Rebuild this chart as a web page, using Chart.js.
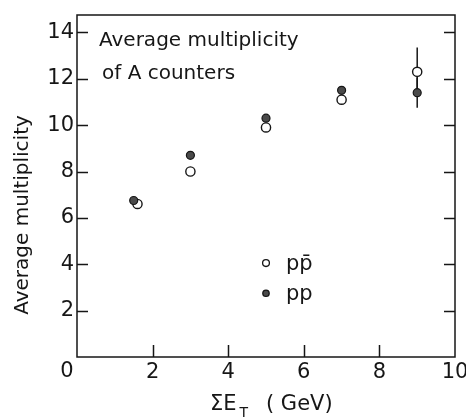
<!DOCTYPE html>
<html>
<head>
<meta charset="utf-8">
<script src="https://cdn.jsdelivr.net/npm/chart.js@4.4.0/dist/chart.umd.min.js"></script>
<style>
  html, body { margin: 0; padding: 0; background: #fff; }
  canvas { display: block; }
</style>
</head>
<body>
<canvas id="c" width="466" height="417"></canvas>
<script>
// Average multiplicity of A counters versus total transverse energy
const energiesPbar = [1.6, 3, 5, 7, 9];
const multPbar     = [6.6, 8.0, 9.9, 11.1, 12.3];
const errPbar      = [0, 0, 0, 0, 1.05];

const energiesPP   = [1.5, 3, 5, 7, 9];
const multPP       = [6.75, 8.7, 10.3, 11.5, 11.4];
const errPP        = [0, 0, 0, 0, 0.65];

const xTickValues  = [2, 4, 6, 8, 10];
const yTickValues  = [2, 4, 6, 8, 10, 12, 14];
const xOriginLabel = '0';

const seriesNames  = ['p\u0070\u0304', 'pp'];
const noteLines    = ['Average multiplicity', 'of A counters'];
const yAxisTitle   = 'Average multiplicity';

const FONT = '"DejaVu Sans", sans-serif';
const INK = '#161616';

function toPoints(xs, ys) {
  return xs.map((x, i) => ({ x: x, y: ys[i] }));
}

// Frame with inward ticks, error bars, annotations and the in-plot key
const framePlugin = {
  id: 'frame',
  beforeDatasetsDraw(chart) {
    const ctx = chart.ctx;
    const xs = chart.scales.x, ys = chart.scales.y;
    ctx.save();
    ctx.strokeStyle = INK;
    ctx.lineWidth = 1.5;
    const bars = [[energiesPbar, multPbar, errPbar], [energiesPP, multPP, errPP]];
    bars.forEach(([ex, my, er]) => {
      ex.forEach((e, i) => {
        if (!er[i]) return;
        const px = xs.getPixelForValue(e);
        ctx.beginPath();
        ctx.moveTo(px, ys.getPixelForValue(my[i] - er[i]));
        ctx.lineTo(px, ys.getPixelForValue(my[i] + er[i]));
        ctx.stroke();
      });
    });
    ctx.restore();
  },
  afterDraw(chart) {
    const ctx = chart.ctx;
    const a = chart.chartArea;
    const xs = chart.scales.x, ys = chart.scales.y;
    ctx.save();
    ctx.strokeStyle = INK;
    ctx.lineWidth = 1.5;
    ctx.strokeRect(a.left, a.top, a.right - a.left, a.bottom - a.top);

    // inward ticks on left, right and bottom edges
    ctx.beginPath();
    yTickValues.forEach(v => {
      const py = Math.round(ys.getPixelForValue(v)) + 0.5;
      ctx.moveTo(a.left, py); ctx.lineTo(a.left + 11, py);
      ctx.moveTo(a.right, py); ctx.lineTo(a.right - 11, py);
    });
    xTickValues.forEach(v => {
      if (v >= xs.max) return;
      const px = Math.round(xs.getPixelForValue(v)) + 0.5;
      ctx.moveTo(px, a.bottom); ctx.lineTo(px, a.bottom - 12);
    });
    ctx.stroke();

    ctx.fillStyle = INK;

    // shared origin label
    ctx.font = '21px ' + FONT;
    ctx.textAlign = 'center';
    ctx.textBaseline = 'middle';
    ctx.fillText(xOriginLabel, xs.getPixelForValue(0) - 10, 372);

    // note in the upper left
    ctx.font = '20px ' + FONT;
    ctx.textAlign = 'left';
    ctx.fillText(noteLines[0], 99, 41);
    ctx.fillText(noteLines[1], 102, 74);

    // y axis title
    ctx.save();
    ctx.translate(23, 215);
    ctx.rotate(-Math.PI / 2);
    ctx.textAlign = 'center';
    ctx.fillText(yAxisTitle, 0, 0);
    ctx.restore();

    // x axis title with subscript
    ctx.textBaseline = 'alphabetic';
    ctx.textAlign = 'left';
    ctx.font = '21px ' + FONT;
    ctx.fillText('\u03A3E', 210, 410);
    const w = ctx.measureText('\u03A3E').width;
    ctx.font = '14px ' + FONT;
    ctx.fillText('T', 210 + w + 3, 417);
    ctx.font = '21px ' + FONT;
    ctx.fillText('( GeV)', 266, 410);

    // key
    const kx = xs.getPixelForValue(5);
    const k1 = ys.getPixelForValue(4.05), k2 = ys.getPixelForValue(2.75);
    ctx.lineWidth = 1.3;
    ctx.beginPath(); ctx.arc(kx, k1, 3.4, 0, Math.PI * 2);
    ctx.fillStyle = '#fff'; ctx.fill(); ctx.stroke();
    ctx.beginPath(); ctx.arc(kx, k2, 3.2, 0, Math.PI * 2);
    ctx.fillStyle = '#4a4a4a'; ctx.fill(); ctx.stroke();
    ctx.fillStyle = INK;
    ctx.font = '21px ' + FONT;
    ctx.textBaseline = 'alphabetic';
    ctx.fillText(seriesNames[0], 286, k1 + 7);
    ctx.fillText(seriesNames[1], 286, k2 + 7);
    ctx.restore();
  }
};

new Chart(document.getElementById('c'), {
  type: 'scatter',
  data: {
    datasets: [
      {
        label: 'pp',
        data: toPoints(energiesPP, multPP),
        pointStyle: 'circle',
        pointRadius: 4,
        backgroundColor: '#4a4a4a',
        borderColor: INK,
        borderWidth: 1.2
      },
      {
        label: 'p\u0070\u0304',
        data: toPoints(energiesPbar, multPbar),
        pointStyle: 'circle',
        pointRadius: 4.6,
        backgroundColor: '#fff',
        borderColor: INK,
        borderWidth: 1.4
      }
    ]
  },
  options: {
    responsive: false,
    animation: false,
    devicePixelRatio: 1,
    layout: { padding: { top: 15, right: 11, left: 0, bottom: 0 } },
    plugins: { legend: { display: false }, tooltip: { enabled: false } },
    scales: {
      x: {
        type: 'linear', min: 0, max: 10,
        afterFit(s) { s.height = 60; s.paddingLeft = 0; s.paddingRight = 0; },
        afterBuildTicks(s) { s.ticks = xTickValues.map(v => ({ value: v })); },
        grid: { display: false, drawTicks: false },
        border: { display: false },
        ticks: { color: INK, font: { family: FONT, size: 21 }, padding: 3, maxRotation: 0, autoSkip: false }
      },
      y: {
        type: 'linear', min: 0, max: 14.75,
        afterFit(s) { s.width = 77; s.paddingTop = 0; s.paddingBottom = 0; },
        afterBuildTicks(s) { s.ticks = yTickValues.map(v => ({ value: v })); },
        grid: { display: false, drawTicks: false },
        border: { display: false },
        ticks: { color: INK, font: { family: FONT, size: 21 }, padding: 3 }
      }
    }
  },
  plugins: [framePlugin]
});
</script>
</body>
</html>
